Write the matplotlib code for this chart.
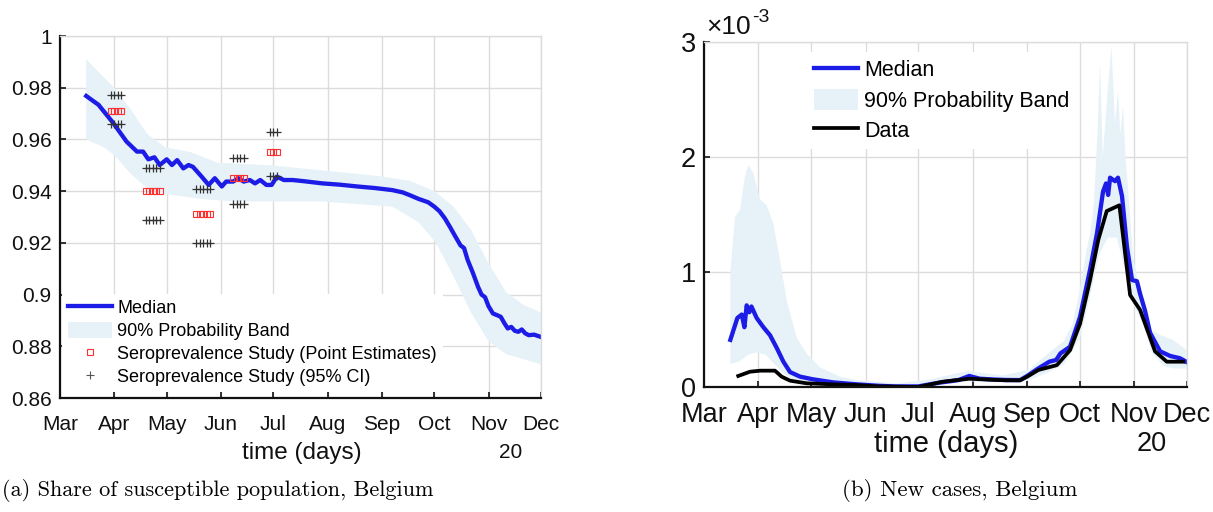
import numpy as np
import matplotlib
matplotlib.use('Agg')
import matplotlib.pyplot as plt
from matplotlib.patches import Patch
from matplotlib.lines import Line2D

plt.rcParams['font.family'] = ['Liberation Sans', 'DejaVu Sans']

W, H = 1213, 512

# month ticks (days since 1 Mar 2020)
month_days = [0, 31, 61, 92, 122, 153, 184, 214, 245, 275]
month_names = ['Mar', 'Apr', 'May', 'Jun', 'Jul', 'Aug', 'Sep', 'Oct', 'Nov', 'Dec']

# ---------- (a) share of susceptible population ----------
sus_days = [15, 22, 30.5, 38, 44, 47.5, 50.5, 54, 57, 61, 64, 67, 70.5, 73.5, 76, 81, 85,
            88.5, 92.5, 95, 99, 102, 105, 108.5, 111.5, 114.5, 118, 121, 124, 128, 133,
            140, 150, 160, 170, 180, 190, 196, 200.5, 205, 210.5, 214, 217, 220, 223, 226,
            229, 231, 233, 236, 239, 241, 243, 245, 247.5, 250, 252, 254, 256, 258, 260,
            262, 264, 266, 268, 271, 275]
sus_med = [0.9768, 0.9734, 0.9663, 0.9592, 0.9553, 0.9553, 0.9523, 0.9531, 0.9501, 0.9523,
           0.9501, 0.9520, 0.9488, 0.9501, 0.9494, 0.9456, 0.9424, 0.9450, 0.9418, 0.9437,
           0.9437, 0.9450, 0.9437, 0.9443, 0.9430, 0.9443, 0.9424, 0.9424, 0.9456, 0.9443,
           0.9443, 0.9438, 0.9430, 0.9425, 0.9418, 0.9412, 0.9404, 0.9395, 0.9383, 0.9370,
           0.9357, 0.9340, 0.9322, 0.9295, 0.9261, 0.9225, 0.9190, 0.9180, 0.9135, 0.9085,
           0.9030, 0.9000, 0.8990, 0.8955, 0.8927, 0.8920, 0.8914, 0.8890, 0.8869, 0.8875,
           0.8860, 0.8856, 0.8865, 0.8850, 0.8843, 0.8845, 0.8836]

sus_up_days = [15, 25, 31, 40, 50, 60, 75, 90, 120, 150, 180, 200, 214, 225, 235, 245, 255, 265, 275]
sus_up = [0.991, 0.984, 0.980, 0.972, 0.962, 0.957, 0.955, 0.951, 0.950, 0.948, 0.946, 0.944,
          0.940, 0.934, 0.925, 0.912, 0.901, 0.896, 0.893]
sus_lo_days = [15, 25, 31, 40, 50, 60, 80, 100, 150, 190, 205, 215, 225, 235, 245, 255, 265, 275]
sus_lo = [0.960, 0.957, 0.954, 0.947, 0.941, 0.939, 0.937, 0.936, 0.936, 0.934, 0.928, 0.920,
          0.907, 0.893, 0.882, 0.877, 0.875, 0.873]

# seroprevalence studies: days of each study, point estimate, CI
sero_days = [[29, 31, 33, 35], [49, 51, 53, 55, 57], [78, 80, 82, 84, 86],
             [99, 101, 103, 105], [120, 122, 124]]
sero_point = [0.971, 0.940, 0.931, 0.945, 0.955]
sero_lo = [0.966, 0.929, 0.920, 0.935, 0.946]
sero_hi = [0.977, 0.949, 0.941, 0.953, 0.963]

# ---------- (b) new cases (x 1e-3) ----------
nc_days = [15, 19, 21.5, 23, 24.3, 25.8, 27, 30, 33.8, 37.6, 41.4, 45.2, 49, 54.7, 62, 73.6,
           87, 100, 109, 122, 134, 140, 145, 151, 157, 165, 172, 180, 184, 190.4, 196.6,
           200.5, 203, 208.4, 214.1, 219.8, 223.8, 227.2, 228.9, 230.1, 231.2, 234, 235.7,
           238, 240.8, 243.7, 246.5, 248.3, 251, 254, 259.7, 265.4, 271, 274.5]
nc_med = [0.41, 0.60, 0.63, 0.52, 0.71, 0.65, 0.70, 0.60, 0.52, 0.45, 0.34, 0.22, 0.13, 0.09,
          0.067, 0.04, 0.023, 0.01, 0.005, 0.005, 0.038, 0.05, 0.061, 0.096, 0.072, 0.065,
          0.061, 0.06, 0.096, 0.162, 0.22, 0.235, 0.293, 0.35, 0.61, 1.02, 1.34, 1.70, 1.77,
          1.67, 1.82, 1.79, 1.82, 1.66, 1.22, 0.93, 0.92, 0.81, 0.67, 0.47, 0.31, 0.27, 0.25,
          0.22]

nc_data_days = [19.5, 26.2, 32, 40.4, 44.2, 49, 58.5, 73.6, 87, 100, 122, 136, 151, 165, 172,
                180, 184, 190.4, 200.9, 208.4, 214.1, 219.8, 224.5, 229.3, 236.5, 242.6,
                248.3, 256.8, 263.5, 272.8]
nc_data = [0.096, 0.133, 0.142, 0.142, 0.09, 0.055, 0.032, 0.023, 0.017, 0.005, 0.0, 0.046,
           0.072, 0.062, 0.058, 0.058, 0.09, 0.148, 0.19, 0.32, 0.55, 0.93, 1.28, 1.53, 1.58,
           0.80, 0.67, 0.31, 0.22, 0.22]

nc_up_days = [15, 17.7, 20.5, 23.3, 25.2, 28.1, 31.9, 35.7, 39.5, 43.3, 47.1, 52.8, 58.5, 66,
              77.4, 87, 110, 130, 150, 170, 185, 195, 205, 210, 214, 218, 220, 222, 224,
              225.5, 227, 228.5, 230, 232, 234, 235.8, 237, 238.6, 240, 241.5, 244.3, 248.3,
              254, 260, 267, 275]
nc_up = [1.0, 1.48, 1.54, 1.83, 1.93, 1.86, 1.63, 1.58, 1.42, 1.10, 0.75, 0.43, 0.29, 0.17,
         0.09, 0.06, 0.03, 0.07, 0.14, 0.10, 0.15, 0.28, 0.40, 0.55, 0.85, 1.2, 1.35, 1.6,
         2.2, 2.83, 2.0, 2.3, 2.6, 2.96, 2.3, 2.58, 2.2, 2.44, 2.0, 1.71, 1.13, 0.82, 0.50,
         0.45, 0.41, 0.32]
nc_lo_days = [15, 20, 25, 30, 35, 40, 45, 50, 60, 80, 100, 130, 150, 170, 185, 195, 205, 214,
              220, 225, 230, 235, 240, 245, 250, 255, 262, 268, 275]
nc_lo = [0.2, 0.22, 0.28, 0.3, 0.28, 0.2, 0.12, 0.07, 0.04, 0.01, 0.0, 0.01, 0.05, 0.04,
         0.06, 0.12, 0.2, 0.42, 0.8, 1.15, 1.3, 1.3, 1.0, 0.7, 0.55, 0.3, 0.18, 0.16, 0.16]

blue = '#1c1ce6'
band = '#e6f2f8'
gridc = '#dcdcdc'


def px(x0, y0, x1, y1):
    return [x0 / W, 1 - y1 / H, (x1 - x0) / W, (y1 - y0) / H]


def style_axes(ax, fs, xpad):
    ax.set_xlim(0, 275)
    ax.set_xticks(month_days)
    ax.set_xticklabels(month_names)
    ax.grid(True, color=gridc, lw=1)
    ax.set_axisbelow(True)
    for s in ['top', 'right']:
        ax.spines[s].set_color(gridc)
        ax.spines[s].set_linewidth(1)
    for s in ['left', 'bottom']:
        ax.spines[s].set_color('#111111')
        ax.spines[s].set_linewidth(1.6)
    ax.tick_params(direction='in', length=4, width=1.2, labelsize=fs, colors='#111111')
    ax.tick_params(axis='x', pad=xpad)
    ax.tick_params(axis='y', pad=6)


fig = plt.figure(figsize=(W / 100, H / 100), dpi=100)

# ---- left panel
ax1 = fig.add_axes(px(60, 36, 541, 398))
ax1.fill(np.concatenate([sus_up_days, sus_lo_days[::-1]]),
         np.concatenate([sus_up, sus_lo[::-1]]), color=band, lw=0)
ax1.plot(sus_days, sus_med, color=blue, lw=3.1)
for d, p, lo, hi in zip(sero_days, sero_point, sero_lo, sero_hi):
    ax1.plot(d, [lo] * len(d), '+', color='#333333', ms=6, mew=0.9)
    ax1.plot(d, [hi] * len(d), '+', color='#333333', ms=6, mew=0.9)
    ax1.plot(d, [p] * len(d), 's', mfc='none', mec='#ff3030', ms=4.2, mew=0.8)
ax1.set_ylim(0.86, 1.0)
ax1.set_yticks([0.86, 0.88, 0.9, 0.92, 0.94, 0.96, 0.98, 1.0])
ax1.set_yticklabels(['0.86', '0.88', '0.9', '0.92', '0.94', '0.96', '0.98', '1'])
style_axes(ax1, 15, 12)

h1 = [Line2D([], [], color=blue, lw=3.1),
      Patch(facecolor=band, edgecolor='none'),
      Line2D([], [], ls='none', marker='s', mfc='none', mec='#ff3030', ms=4.2, mew=0.8),
      Line2D([], [], ls='none', marker='+', color='#555555', ms=6, mew=0.8)]
l1 = ['Median', '90% Probability Band', 'Seroprevalence Study (Point Estimates)',
      'Seroprevalence Study (95% CI)']
leg1 = ax1.legend(h1, l1, loc='upper left', bbox_to_anchor=(0.005, 0.288), fontsize=13,
                  frameon=True, facecolor='white', edgecolor='none', framealpha=1,
                  fancybox=False, borderpad=0.3, borderaxespad=0, handlelength=2.45,
                  handletextpad=0.3, labelspacing=0.26, handleheight=1.0)

fig.text(302 / W, 1 - 453 / H, 'time (days)', fontsize=17.5, ha='center', va='center', color='#111111')
fig.text(511 / W, 1 - 453 / H, '20', fontsize=15, ha='center', va='center', color='#111111')

# ---- right panel
ax2 = fig.add_axes(px(704, 42, 1187, 387))
ax2.fill(np.concatenate([nc_up_days, nc_lo_days[::-1]]),
         np.concatenate([nc_up, nc_lo[::-1]]), color=band, lw=0)
ax2.plot(nc_days, nc_med, color=blue, lw=3.1)
ax2.plot(nc_data_days, nc_data, color='black', lw=2.7)
ax2.set_ylim(0, 3)
ax2.set_yticks([0, 1, 2, 3])
ax2.set_yticklabels(['0', '1', '2', '3'])
style_axes(ax2, 19.5, 11)

h2 = [Line2D([], [], color=blue, lw=3.1),
      Patch(facecolor=band, edgecolor='none'),
      Line2D([], [], color='black', lw=2.7)]
l2 = ['Median', '90% Probability Band', 'Data']
leg2 = ax2.legend(h2, l2, loc='upper left', bbox_to_anchor=(0.215, 0.97), fontsize=15.5,
                  frameon=True, facecolor='white', edgecolor='none', framealpha=1,
                  fancybox=False, borderpad=0.3, borderaxespad=0, handlelength=2.05,
                  handletextpad=0.25, labelspacing=0.36, handleheight=1.1)

fig.text(706 / W, 1 - 27 / H, '×10', fontsize=19, ha='left', va='center', color='#111111')
fig.text(752 / W, 1 - 17 / H, '-3', fontsize=14, ha='left', va='center', color='#111111')
fig.text(946 / W, 1 - 444 / H, 'time (days)', fontsize=21, ha='center', va='center', color='#111111')
fig.text(1152 / W, 1 - 444 / H, '20', fontsize=19.5, ha='center', va='center', color='#111111')

# captions
fig.text(2 / W, 1 - 490 / H, '(a) Share of susceptible population, Belgium',
         family=['cmr10', 'DejaVu Serif'], fontsize=16, ha='left', va='center')
fig.text(960 / W, 1 - 490 / H, '(b) New cases, Belgium',
         family=['cmr10', 'DejaVu Serif'], fontsize=16.5, ha='center', va='center')

fig.savefig('out.png', dpi=100)
